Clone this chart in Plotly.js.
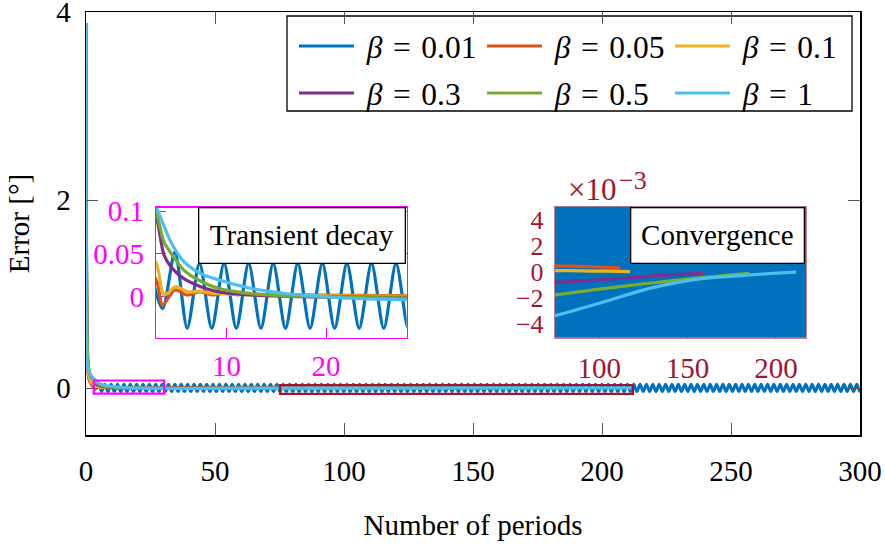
<!DOCTYPE html>
<html>
<head>
<meta charset="utf-8">
<script src="https://cdn.plot.ly/plotly-3.0.1.min.js"></script>
<style>
  html, body { margin: 0; padding: 0; background: #ffffff; }
  #chart { width: 885px; height: 550px; }
</style>
</head>
<body>
<div id="chart"></div>
<script>
// Tracking error per period for six values of the gain beta.
const betaLabels = ['0.01', '0.05', '0.1', '0.3', '0.5', '1'];

// beta = 0.01: steady oscillation; samples at its turning points,
// spaced by half an oscillation (first turning point at period 1.1).
const blueT0 = 1.1;
const blueHalfCycle = 1.235;
const blueHeadX = [0, 0.5];
const blueHeadY = [3.88, 0.5];
const blueY = [
  0.1, 0.03, -0.014, 0.052,
  -0.037, 0.039, -0.037, 0.039, -0.037, 0.039, -0.037, 0.039, -0.037, 0.039, -0.037, 0.039, -0.037, 0.039, -0.037, 0.039, -0.037, 0.039, -0.037, 0.039, -0.037, 0.039, -0.037, 0.039, -0.037, 0.039, -0.037, 0.039, -0.037, 0.039, -0.037, 0.039, -0.037, 0.039, -0.037, 0.039,
  -0.037, 0.039, -0.037, 0.039, -0.037, 0.039, -0.037, 0.039, -0.037, 0.039, -0.037, 0.039, -0.037, 0.039, -0.037, 0.039, -0.037, 0.039, -0.037, 0.039, -0.037, 0.039, -0.037, 0.039, -0.037, 0.039, -0.037, 0.039, -0.037, 0.039, -0.037, 0.039, -0.037, 0.039, -0.037, 0.039, -0.037, 0.039, -0.037, 0.039,
  -0.037, 0.039, -0.037, 0.039, -0.037, 0.039, -0.037, 0.039, -0.037, 0.039, -0.037, 0.039, -0.037, 0.039, -0.037, 0.039, -0.037, 0.039, -0.037, 0.039, -0.037, 0.039, -0.037, 0.039, -0.037, 0.039, -0.037, 0.039, -0.037, 0.039, -0.037, 0.039, -0.037, 0.039, -0.037, 0.039, -0.037, 0.039, -0.037, 0.039,
  -0.037, 0.039, -0.037, 0.039, -0.037, 0.039, -0.037, 0.039, -0.037, 0.039, -0.037, 0.039, -0.037, 0.039, -0.037, 0.039, -0.037, 0.039, -0.037, 0.039, -0.037, 0.039, -0.037, 0.039, -0.037, 0.039, -0.037, 0.039, -0.037, 0.039, -0.037, 0.039, -0.037, 0.039, -0.037, 0.039, -0.037, 0.039, -0.037, 0.039,
  -0.037, 0.039, -0.037, 0.039, -0.037, 0.039, -0.037, 0.039, -0.037, 0.039, -0.037, 0.039, -0.037, 0.039, -0.037, 0.039, -0.037, 0.039, -0.037, 0.039, -0.037, 0.039, -0.037, 0.039, -0.037, 0.039, -0.037, 0.039, -0.037, 0.039, -0.037, 0.039, -0.037, 0.039, -0.037, 0.039, -0.037, 0.039, -0.037, 0.039,
  -0.037, 0.039, -0.037, 0.039, -0.037, 0.039, -0.037, 0.039, -0.037, 0.039, -0.037, 0.039, -0.037, 0.039, -0.037, 0.039, -0.037, 0.039, -0.037, 0.039, -0.037, 0.039, -0.037, 0.039, -0.037, 0.039, -0.037, 0.039, -0.037, 0.039, -0.037, 0.039, -0.037, 0.039, -0.037, 0.039, -0.037, 0.039, -0.037, 0.039,
  -0.037, 0.039, -0.037, 0.039, -0.037, 0.039
];

// beta = 0.05
const orangeX = [0, 0.5, 1, 2, 3, 3.57, 4.8, 6.05, 7.3, 8.5, 9.7, 11, 12.2, 14, 17, 20, 24, 28, 35, 45, 60, 75, 90, 100, 112];
const orangeY = [3.88, 0.35, 0.12, 0.04, 0.0175, -0.0097, 0.0078, 0.0019, 0.0059, 0.002, 0.004, 0.0022, 0.003, 0.0025, 0.002, 0.0017, 0.0014, 0.0012, 0.0009, 0.0007, 0.00055, 0.00044, 0.0004, 0.00035, 0.00028];

// beta = 0.1
const yellowX = [0, 0.5, 1, 2, 3, 3.73, 4.9, 6.1, 7.3, 8.5, 10, 12, 15, 18, 22, 28, 35, 45, 60, 75, 90, 105, 117.5];
const yellowY = [3.88, 0.4, 0.15, 0.06, 0.037, 0.002, 0.0117, 0.0055, 0.0065, 0.004, 0.0032, 0.0024, 0.0017, 0.0012, 0.0008, 0.0005, 0.0003, 0.0002, 0.0001, 0.00008, 0.00005, 0.00003, 0.0];

// beta = 0.3
const purpleX = [0, 0.5, 1, 2, 3, 3.7, 4.4, 5.7, 7.4, 9.1, 12.4, 15.7, 19, 23, 28, 35, 45, 60, 75, 95, 115, 135, 159];
const purpleY = [3.88, 0.5, 0.2, 0.12, 0.09, 0.049, 0.035, 0.021, 0.0117, 0.0059, 0.002, 0.0005, -0.0002, -0.0006, -0.0008, -0.0009, -0.0009, -0.00088, -0.00085, -0.00068, -0.0005, -0.0003, -0.00013];

// beta = 0.5
const greenX = [0, 0.5, 1, 2, 3, 3.7, 4.4, 5.7, 7.4, 9.1, 12.4, 15.7, 19, 23, 28, 35, 45, 60, 75, 100, 128, 155, 185];
const greenY = [3.88, 0.55, 0.22, 0.13, 0.096, 0.064, 0.051, 0.031, 0.018, 0.010, 0.0036, 0.0011, -0.0002, -0.001, -0.0015, -0.0018, -0.0019, -0.0019, -0.0018, -0.00135, -0.0009, -0.0005, -0.00013];

// beta = 1
const lightX = [0, 0.5, 1, 2, 3, 4.4, 5.7, 7.4, 9.1, 12.4, 15.7, 19.1, 22.4, 28, 35, 45, 60, 75, 100, 129, 157, 185, 211.5];
const lightY = [3.88, 0.25, 0.18, 0.13, 0.103, 0.064, 0.041, 0.027, 0.020, 0.0098, 0.004, 0.0008, -0.0019, -0.0038, -0.0041, -0.004, -0.0037, -0.0034, -0.00244, -0.00128, -0.00056, -0.00026, -0.00005];

// Axis ticks
const mainXTicks = [0, 50, 100, 150, 200, 250, 300];
const mainYTicks = [0, 2, 4];
const zoom1XTicks = [10, 20];
const zoom1YTicks = [0, 0.05, 0.1];
const zoom1YText = ['0', '0.05', '0.1'];
const zoom2XTicks = [100, 150, 200];
const zoom2YTicks = [-0.004, -0.002, 0, 0.002, 0.004];
const zoom2YText = ['\u22124', '\u22122', '0', '2', '4'];

const blueX = blueHeadX.concat(blueY.map((_, k) => blueT0 + k * blueHalfCycle));
const blueAll = blueHeadY.concat(blueY);

const series = [
  { x: blueX,   y: blueAll, color: '#0072BD' },
  { x: orangeX, y: orangeY, color: '#D95319' },
  { x: yellowX, y: yellowY, color: '#EDB120' },
  { x: purpleX, y: purpleY, color: '#7E2F8E' },
  { x: greenX,  y: greenY,  color: '#77AC30' },
  { x: lightX,  y: lightY,  color: '#4DBEEE' }
];

const FONT = 'Liberation Serif';
const MAGENTA = '#FF00FF';
const CRIMSON = '#A2142F';

const traces = [];
series.forEach((s, i) => {
  traces.push({
    type: 'scatter', mode: 'lines', x: s.x, y: s.y,
    line: { color: s.color, width: 3, shape: 'spline', smoothing: 0.8 },
    xaxis: 'x', yaxis: 'y',
    name: '\u00A0<i>\u03B2</i>\u2004=\u2004' + betaLabels[i],
    legend: i < 3 ? 'legend' : 'legend2',
    showlegend: true, hoverinfo: 'skip'
  });
});
['x2', 'x3'].forEach((xa, j) => {
  series.forEach((s) => {
    traces.push({
      type: 'scatter', mode: 'lines', x: s.x, y: s.y,
      line: { color: s.color, width: 3.2, shape: 'spline', smoothing: 0.8 },
      xaxis: xa, yaxis: j === 0 ? 'y2' : 'y3', showlegend: false, hoverinfo: 'skip'
    });
  });
});

const legendBase = {
  xanchor: 'left', yanchor: 'middle', orientation: 'h',
  entrywidth: 118, entrywidthmode: 'pixels', itemwidth: 55,
  font: { family: FONT, size: 31.5, color: '#000' },
  bgcolor: 'rgba(0,0,0,0)', borderwidth: 0, tracegroupgap: 0
};

const insetAxis = (color, size) => ({
  ticks: 'inside', ticklen: 10, tickwidth: 1, tickcolor: color,
  showline: true, linecolor: color, linewidth: 1.2, mirror: 'ticks',
  showgrid: false, zeroline: false, layer: 'below traces',
  tickfont: { family: FONT, size: size, color: color }
});

const layout = {
  width: 885, height: 550,
  margin: { l: 86, r: 25, t: 12, b: 115 },
  paper_bgcolor: '#ffffff', plot_bgcolor: '#ffffff',
  font: { family: FONT, size: 29, color: '#000' },
  xaxis: {
    domain: [0, 1], range: [0, 300], anchor: 'y',
    tickmode: 'array', tickvals: mainXTicks,
    ticks: 'inside', ticklen: 12, tickwidth: 1, tickcolor: '#555',
    showline: true, linecolor: '#000', linewidth: 1.5, mirror: 'ticks',
    showgrid: false, zeroline: false, ticklabeloverflow: 'allow',
    tickfont: { family: FONT, size: 29, color: '#000' }, ticklabelstandoff: 10,
    title: { text: 'Number of periods', font: { family: FONT, size: 29, color: '#000' }, standoff: 28 }
  },
  yaxis: {
    domain: [0, 1], range: [-0.5, 4.0005], anchor: 'x',
    tickmode: 'array', tickvals: mainYTicks,
    ticks: 'inside', ticklen: 12, tickwidth: 1, tickcolor: '#555',
    showline: true, linecolor: '#000', linewidth: 1.5, mirror: 'ticks',
    showgrid: false, zeroline: false, ticklabeloverflow: 'allow',
    tickfont: { family: FONT, size: 29, color: '#000' }, ticklabelstandoff: 8,
    title: { text: 'Error [\u00B0]', font: { family: FONT, size: 29, color: '#000' }, standoff: 18 }
  },
  xaxis2: Object.assign(insetAxis(MAGENTA, 29), {
    domain: [0.0904, 0.4143], range: [2.9, 28.1], anchor: 'y2',
    tickmode: 'array', tickvals: zoom1XTicks, ticklabelstandoff: 2
  }),
  yaxis2: Object.assign(insetAxis(MAGENTA, 29), {
    domain: [0.2300, 0.5374], range: [-0.048, 0.104], anchor: 'x2',
    tickmode: 'array', tickvals: zoom1YTicks, ticktext: zoom1YText, ticklabelstandoff: 5
  }),
  xaxis3: Object.assign(insetAxis(CRIMSON, 29), {
    domain: [0.6059, 0.9302], range: [75, 217], anchor: 'y3',
    tickmode: 'array', tickvals: zoom2XTicks, ticklabelstandoff: 4, linecolor: 'rgba(162,20,47,0.55)'
  }),
  yaxis3: Object.assign(insetAxis(CRIMSON, 26), {
    domain: [0.2300, 0.5397], range: [-0.0051, 0.005], anchor: 'x3',
    tickmode: 'array', tickvals: zoom2YTicks, ticktext: zoom2YText, ticklabelstandoff: 5, linecolor: 'rgba(162,20,47,0.55)'
  }),
  legend: Object.assign({}, legendBase, { x: 0.2687, y: 0.9196 }),
  legend2: Object.assign({}, legendBase, { x: 0.2687, y: 0.8085 }),
  shapes: [
    { type: 'rect', xref: 'paper', yref: 'paper', x0: 0.2597, x1: 0.9897, y0: 0.766, y1: 0.9905,
      line: { color: '#000', width: 1.3 }, fillcolor: '#ffffff', layer: 'below' },
    { type: 'rect', xref: 'x', yref: 'y', x0: 3, x1: 30.3, y0: -0.06, y1: 0.08,
      line: { color: MAGENTA, width: 2.2 }, layer: 'above' },
    { type: 'rect', xref: 'x', yref: 'y', x0: 75.2, x1: 212, y0: -0.062, y1: 0.032,
      line: { color: CRIMSON, width: 2.2 }, layer: 'above' }
  ],
  annotations: [
    { xref: 'paper', yref: 'paper', x: 0.2791, y: 0.4716, xanchor: 'center', yanchor: 'middle',
      text: 'Transient decay', showarrow: false, font: { family: FONT, size: 29, color: '#000' },
      bgcolor: '#ffffff', bordercolor: '#000', borderwidth: 1.3, borderpad: 0, width: 205, height: 54 },
    { xref: 'paper', yref: 'paper', x: 0.8164, y: 0.4716, xanchor: 'center', yanchor: 'middle',
      text: 'Convergence', showarrow: false, font: { family: FONT, size: 29, color: '#000' },
      bgcolor: '#ffffff', bordercolor: '#000', borderwidth: 1.3, borderpad: 0, width: 172, height: 54 },
    // scale factor of the right inset's y ticks
    { xref: 'paper', yref: 'paper', x: 0.6201, y: 0.5792, xanchor: 'left', yanchor: 'middle',
      text: '\u00D710', showarrow: false, font: { family: FONT, size: 31, color: CRIMSON } },
    { xref: 'paper', yref: 'paper', x: 0.6855, y: 0.6005, xanchor: 'left', yanchor: 'middle',
      text: '\u22123', showarrow: false, font: { family: FONT, size: 26, color: CRIMSON } }
  ]
};

Plotly.newPlot('chart', traces, layout, { displayModeBar: false, staticPlot: true });
</script>
</body>
</html>
